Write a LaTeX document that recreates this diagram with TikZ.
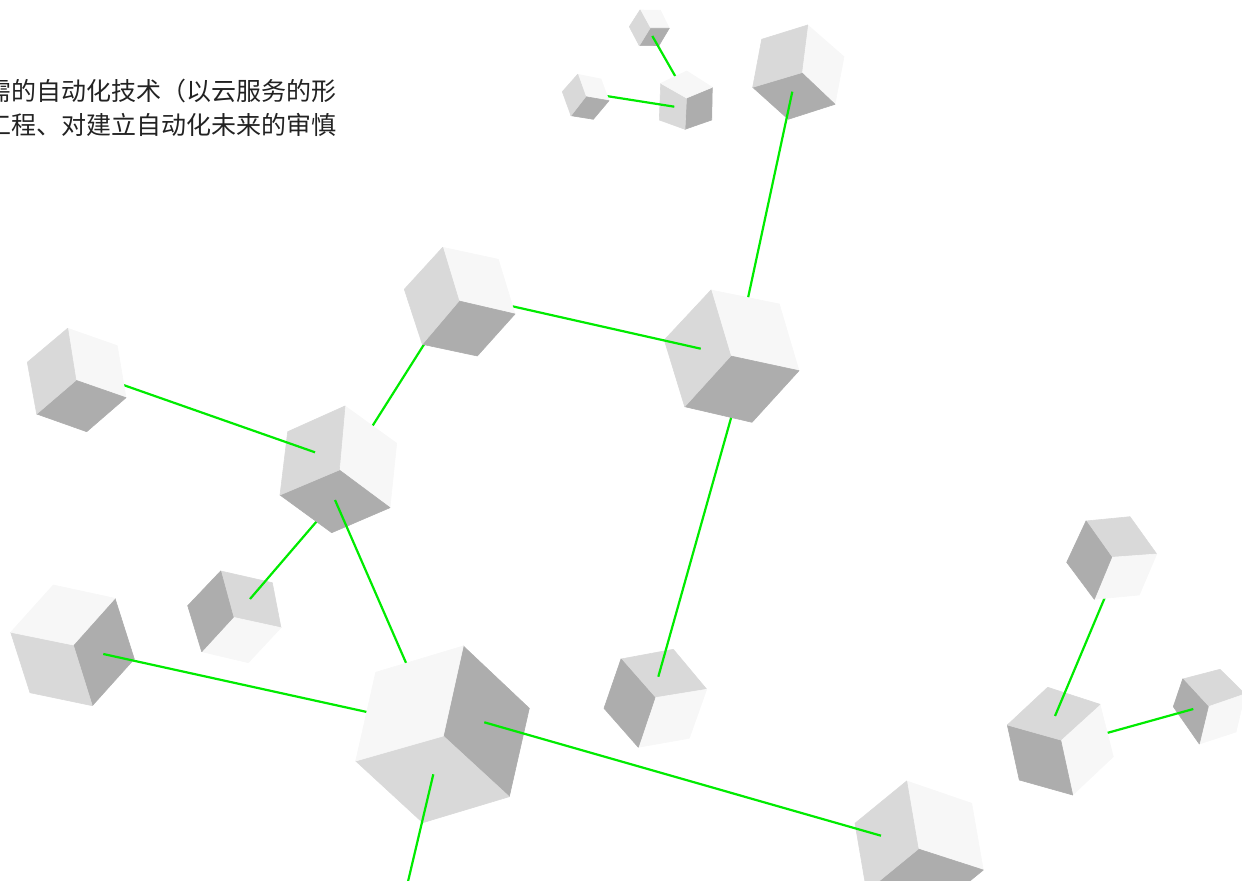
\documentclass[tikz,border=0pt]{standalone}
\usepackage{fontspec}
\newfontfamily\cjk{Noto Sans CJK SC}
\definecolor{cW}{HTML}{F7F7F7}
\definecolor{cL}{HTML}{D9D9D9}
\definecolor{cD}{HTML}{ADADAD}
\definecolor{lnk}{RGB}{0,235,0}
\definecolor{txt}{HTML}{222222}
\tikzset{
  fW/.style={fill=cW,draw=cW,line width=0.3pt,line join=round},
  fL/.style={fill=cL,draw=cL,line width=0.3pt,line join=round},
  fD/.style={fill=cD,draw=cD,line width=0.3pt,line join=round},
  link/.style={draw=lnk,line width=1.1pt},
  label/.style={anchor=base west,inner sep=0pt,text=txt,font=\cjk\fontsize{12.5pt}{16pt}\selectfont}
}
\newcommand\cubepts[8]{%
  \coordinate (#1c) at #2; \coordinate (#1v0) at #3; \coordinate (#1v1) at #4;
  \coordinate (#1v2) at #5; \coordinate (#1v3) at #6; \coordinate (#1v4) at #7;
  \coordinate (#1v5) at #8;}
\newcommand\cubepaint[4]{%
  \path[#2] (#1c)--(#1v0)--(#1v1)--(#1v2)--cycle;
  \path[#3] (#1c)--(#1v2)--(#1v3)--(#1v4)--cycle;
  \path[#4] (#1c)--(#1v4)--(#1v5)--(#1v0)--cycle;}
\begin{document}
\begin{tikzpicture}[x=0.5pt,y=-0.5pt]
\useasboundingbox (0,0) rectangle (1242,881);
\clip (0,0) rectangle (1242,881);
% cube geometry
\cubepts{k1}{(650,28.3)}{(640,10)}{(660.5,10.3)}{(669.3,28.3)}{(659,45.5)}{(639.3,45.7)}{(629.3,26.7)}
\cubepts{k2}{(585.7,96.7)}{(577.7,74.3)}{(601,79)}{(609,100.7)}{(593.3,119.3)}{(571,115.7)}{(562.3,91.7)}
\cubepts{k3}{(686.5,98)}{(712.3,87.3)}{(711.7,120)}{(685,129.3)}{(659.3,120)}{(660.7,83.3)}{(686.7,71)}
\cubepts{k4}{(801.7,72.7)}{(807.7,25)}{(844,56.7)}{(835,104.3)}{(788.3,119.3)}{(752.7,87.3)}{(761.7,39.3)}
\cubepts{k5}{(459,301)}{(442.7,247.3)}{(498.3,259.3)}{(515,314)}{(477.3,356)}{(422.3,344.3)}{(404.3,289.3)}
\cubepts{k6}{(730.7,356)}{(711,290)}{(779.3,304)}{(799,370.7)}{(752,422.3)}{(684.7,406.7)}{(664.3,340)}
\cubepts{k7}{(76,380.3)}{(67.7,328.3)}{(117.3,345.7)}{(126,397.7)}{(86.7,431.7)}{(36.7,414)}{(27.3,362.3)}
\cubepts{k8}{(339.3,470)}{(345,406)}{(396.7,443.3)}{(390,507.7)}{(331.7,532.7)}{(280,495)}{(287.7,431.7)}
\cubepts{k9}{(233.3,617.3)}{(220.7,571)}{(272.3,582.7)}{(281,627.7)}{(248.3,662.7)}{(201.7,651.7)}{(187.7,605.7)}
\cubepts{k10}{(73.3,645)}{(115,598.3)}{(134.3,659)}{(92.3,705.7)}{(30,692.7)}{(10.7,632.3)}{(53.3,585)}
\cubepts{k11}{(443.3,736)}{(463.3,646)}{(529.3,708.3)}{(509.3,796.7)}{(422.7,822.7)}{(355.7,761)}{(375.7,672.3)}
\cubepts{k12}{(655,697.7)}{(621,659)}{(673.3,649.3)}{(706.7,689.3)}{(689.3,738.3)}{(638.3,747.3)}{(604,708.3)}
\cubepts{k13}{(918.3,849)}{(906.7,781)}{(971.7,803.3)}{(983.3,870)}{(931.6,912.3)}{(866.6,891.3)}{(855,823.3)}
\cubepts{k14}{(1111.7,557.3)}{(1086,521)}{(1130,516.7)}{(1156.7,554)}{(1139.3,595)}{(1094.3,599.3)}{(1066.7,562.3)}
\cubepts{k15}{(1060.7,740)}{(1100,704.3)}{(1113.3,756.7)}{(1072.7,795)}{(1019.3,780)}{(1007.3,725)}{(1047.7,687.3)}
\cubepts{k16}{(1208.3,706.7)}{(1182.7,679)}{(1220,669.3)}{(1245,694)}{(1236,732)}{(1199.3,744)}{(1173.3,706.7)}
% connector end points
\coordinate (a1) at (652.3,36);    \coordinate (b1) at (678,81);
\coordinate (a2) at (674.3,106.7); \coordinate (b2) at (600,95);
\coordinate (a3) at (792.3,91.7);  \coordinate (b3) at (745,312);
\coordinate (a4) at (700.7,348.7); \coordinate (b4) at (500,303.5);
\coordinate (a5) at (430,335);     \coordinate (b5) at (368,433);
\coordinate (a6) at (315,452.3);   \coordinate (b6) at (112,381);
\coordinate (a7) at (250,599);     \coordinate (b7) at (323,514);
\coordinate (a8) at (335,500);     \coordinate (b8) at (410,672);
\coordinate (a9) at (658.3,676.7); \coordinate (b9) at (733,411);
\coordinate (a10) at (103.3,654);  \coordinate (b10) at (376,714);
\coordinate (a11) at (484.3,722.3);\coordinate (b11) at (881,835.7);
\coordinate (a12) at (433.3,774.3);\coordinate (b12) at (406,890);
\coordinate (a13) at (1055,716);   \coordinate (b13) at (1108,590);
\coordinate (a14) at (1193.3,709); \coordinate (b14) at (1098,735.5);
% top cluster
\cubepaint{k1}{fW}{fD}{fL}
\draw[link] (a1) -- (b1);
\cubepaint{k3}{fD}{fL}{fW}
\draw[link] (a2) -- (b2);
\cubepaint{k2}{fW}{fD}{fL}
% middle
\cubepaint{k4}{fW}{fD}{fL}
\draw[link] (a3) -- (b3);
\cubepaint{k12}{fL}{fW}{fD}
\draw[link] (a9) -- (b9);
\cubepaint{k6}{fW}{fD}{fL}
\draw[link] (a4) -- (b4);
\cubepaint{k9}{fL}{fW}{fD}
\draw[link] (a7) -- (b7);
\draw[link] (a5) -- (b5);
\cubepaint{k8}{fW}{fD}{fL}
\draw[link] (a6) -- (b6);
\cubepaint{k7}{fW}{fD}{fL}
\draw[link] (a8) -- (b8);
\cubepaint{k5}{fW}{fD}{fL}
% lower
\cubepaint{k10}{fD}{fL}{fW}
\draw[link] (a10) -- (b10);
\cubepaint{k11}{fD}{fL}{fW}
\cubepaint{k13}{fW}{fD}{fL}
\draw[link] (a11) -- (b11);
\draw[link] (a12) -- (b12);
% right cluster
\cubepaint{k16}{fL}{fW}{fD}
\draw[link] (a14) -- (b14);
\cubepaint{k15}{fW}{fD}{fL}
\draw[link] (a13) -- (b13);
\cubepaint{k14}{fL}{fW}{fD}
% text
\node[label] (t1) at (-14,101) {需的自动化技术（以云服务的形};
\node[label] (t2) at (-14,134.5) {工程、对建立自动化未来的审慎};
\end{tikzpicture}
\end{document}
